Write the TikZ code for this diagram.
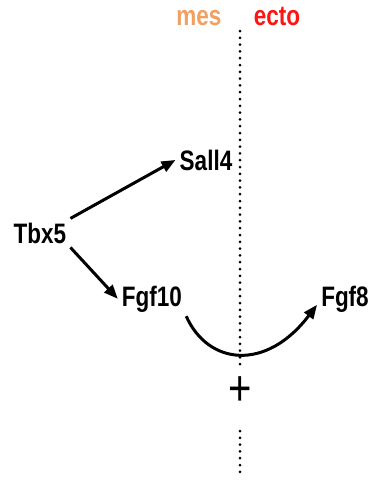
\documentclass[tikz,border=0pt]{standalone}
\usepackage{fontspec}
\setmainfont{Liberation Sans}
\usepackage{tikz}
\usetikzlibrary{arrows.meta}

\definecolor{mescol}{RGB}{240,160,100}
\definecolor{ectocol}{RGB}{255,20,20}
\newcommand{\tall}[1]{\scalebox{1}[1.25]{#1}}

\begin{document}
\begin{tikzpicture}[x=1pt,y=-1pt,
    font=\fontsize{22.5}{27}\selectfont\bfseries,
    gene/.style={anchor=base,inner sep=4pt},
    link/.style={line width=3pt,-{Triangle[length=14pt,width=11pt]}},
    border/.style={line width=3pt,line cap=round,dash pattern=on 0pt off 6.8pt}]

      \useasboundingbox (0,0) rectangle (374,480);

      % tissue labels
      \node[gene,text=mescol] (mes) at (199,25) {\tall{mes}};
      \node[gene,text=ectocol] (ecto) at (277,25) {\tall{ecto}};

      % mes / ecto boundary
      \coordinate (top) at (240,31);
      \coordinate (low) at (240,367);
      \coordinate (back) at (240,431);
      \coordinate (end) at (240,473);
      \draw[border] (top) -- (low);
      \draw[border] (back) -- (end);
      \node[font=\fontsize{40}{44}\selectfont,inner sep=0pt] (plus) at (240,391) {\tall{+}};

      % genes
      \node[gene] (tbx5) at (40,243) {\tall{Tbx5}};
      \node[gene] (sall4) at (206,170) {\tall{Sall4}};
      \node[gene] (fgf10) at (152,306) {\tall{Fgf10}};
      \node[gene] (fgf8) at (345,306) {\tall{Fgf8}};

      % interactions
      \draw[link] (tbx5.north east) -- (sall4.west);
      \draw[link] (tbx5.south east) -- (fgf10.west);
      \draw[link] (fgf10.south east) .. controls (208,365) and (266,372) .. ([yshift=-6pt]fgf8.west);

\end{tikzpicture}
\end{document}
